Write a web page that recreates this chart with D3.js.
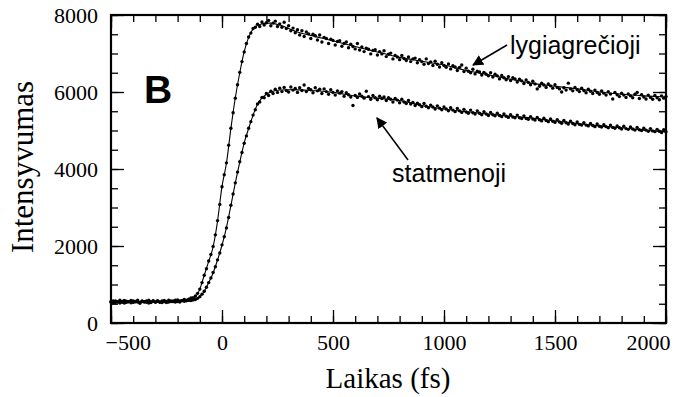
<!DOCTYPE html>
<html>
<head>
<meta charset="UTF-8">
<title>Intensyvumas</title>
<style>
  body { margin: 0; background: #fff; }
  .tick text { font-family: "Liberation Serif", "Times New Roman", serif; font-size: 22px; fill: #000; }
  .tick line { stroke: #000; stroke-width: 1.3; }
</style>
</head>
<body>
<svg id="chart"></svg>
<script src="https://cdn.jsdelivr.net/npm/d3@7"></script>
<script>
const width = 678;
const height = 397;

// sampling grid of the measured points (fs), every 10 fs
const times = d3.range(-500, 2001, 10);

// lygiagrečioji (parallel) measured points
const upperPts = [
  545, 570, 530, 555, 590, 540, 520, 565, 550, 585,
  535, 560, 545, 510, 575, 555, 540, 590, 530, 565,
  550, 580, 540, 575, 555, 530, 590, 560, 575, 545,
  600, 570, 585, 610, 595, 620, 650, 660, 700, 770,
  880, 1050, 1240, 1410, 1610, 1780, 1990, 2290, 2660, 3080,
  3540, 3850, 4160, 4620, 5060, 5460, 5840, 6190, 6510, 6790,
  7040, 7260, 7430, 7530, 7650, 7680, 7760, 7700, 7820, 7740,
  7800, 7860, 7720, 7790, 7840, 7700, 7770, 7680, 7810, 7650,
  7720, 7590, 7660, 7540, 7620, 7480, 7590, 7440, 7560, 7510,
  7390, 7500, 7460, 7350, 7480, 7300, 7420, 7390, 7260, 7370,
  7340, 7220, 7310, 7330, 7190, 7260, 7300, 7150, 7240, 7180,
  7120, 7260, 7090, 7170, 7050, 7140, 7110, 6990, 7080, 7100,
  6960, 7050, 6990, 7070, 6920, 6980, 7010, 6860, 6950, 6910,
  6840, 6950, 6870, 6820, 6910, 6790, 6860, 6880, 6760, 6840,
  6790, 6720, 6860, 6740, 6780, 6690, 6800, 6720, 6650, 6760,
  6690, 6640, 6730, 6600, 6680, 6650, 6560, 6640, 6700, 6530,
  6620, 6540, 6500, 6590, 6470, 6540, 6520, 6440, 6510, 6460,
  6420, 6500, 6390, 6460, 6420, 6340, 6430, 6370, 6320, 6400,
  6300, 6370, 6340, 6260, 6330, 6290, 6220, 6310, 6250, 6190,
  6280, 6210, 6080, 6150, 6230, 6180, 6120, 6210, 6160, 6100,
  6190, 6120, 6080, 6000, 6110, 6050, 6230, 6080, 6030, 6120,
  6060, 6010, 6100, 6040, 5980, 6070, 6020, 5960, 6050, 5990,
  5940, 6030, 5970, 5920, 6010, 5950, 5820, 5990, 5930, 5880,
  5970, 5920, 5860, 5950, 5900, 5850, 5940, 5990, 5830, 5930,
  5870, 5820, 5920, 5860, 5810, 5910, 5850, 5800, 5900, 5840,
  5880
];

// statmenoji (perpendicular) measured points
const lowerPts = [
  555, 530, 570, 545, 520, 560, 585, 540, 555, 525,
  570, 550, 590, 535, 560, 545, 575, 520, 555, 580,
  540, 565, 550, 530, 585, 560, 545, 575, 555, 590,
  560, 545, 580, 565, 575, 590, 585, 600, 610, 640,
  685, 750, 825, 930, 1050, 1170, 1310, 1460, 1640, 1820,
  2030, 2240, 2470, 2740, 3060, 3350, 3640, 3920, 4190, 4430,
  4670, 4860, 5060, 5230, 5400, 5540, 5690, 5740, 5860, 5850,
  5960, 5910, 6020, 5960, 6070, 5990, 6100, 6010, 6120, 6040,
  6000, 6130, 6050, 6090, 5990, 6110, 6040, 6180, 6010, 6090,
  6060, 5980, 6110, 6030, 6070, 5960, 6080, 6010, 5940, 6060,
  5990, 5920, 6030, 5970, 6010, 5890, 5980, 5930, 5870, 5650,
  5910, 5860, 5950, 5890, 5840, 6020, 5880, 5810, 5910, 5850,
  5800, 5890, 5830, 5870, 5780, 5850, 5810, 5740, 5830, 5790,
  5720, 5810, 5740, 5700, 5780, 5690, 5730, 5650, 5710, 5670,
  5620, 5700, 5630, 5590, 5660, 5610, 5560, 5640, 5580, 5540,
  5610, 5560, 5510, 5590, 5530, 5490, 5570, 5510, 5470, 5550,
  5480, 5450, 5530, 5460, 5430, 5510, 5450, 5410, 5490, 5430,
  5390, 5470, 5410, 5380, 5450, 5390, 5360, 5430, 5370, 5340,
  5410, 5350, 5330, 5400, 5330, 5310, 5380, 5310, 5290, 5360,
  5300, 5270, 5340, 5280, 5250, 5320, 5260, 5230, 5300, 5240,
  5210, 5280, 5220, 5190, 5260, 5200, 5170, 5240, 5180, 5150,
  5220, 5160, 5140, 5200, 5140, 5120, 5180, 5130, 5100, 5170,
  5110, 5090, 5150, 5100, 5070, 5140, 5080, 5060, 5120, 5070,
  5040, 5110, 5050, 5030, 5090, 5040, 5010, 5080, 5020, 5000,
  5060, 5010, 4980, 5050, 4990, 4970, 5030, 4980, 4950, 5020,
  4970
];

// fitted curves
const fitTimes = [-500, -300, -200, -150, -120, -100, -80, -60, -40, -20, 0, 20, 40, 60, 80, 100, 120, 140, 160, 180, 200, 220, 260, 300, 340, 400, 500, 600, 700, 800, 900, 1000, 1100, 1200, 1300, 1400, 1500, 1600, 1700, 1800, 1900, 2000];
const fitUpper = [550, 555, 570, 600, 680, 880, 1240, 1600, 1980, 2650, 3550, 4150, 5050, 5850, 6500, 7050, 7420, 7640, 7730, 7770, 7790, 7790, 7740, 7650, 7560, 7470, 7330, 7180, 7040, 6900, 6800, 6700, 6560, 6450, 6330, 6225, 6150, 6080, 6000, 5940, 5900, 5870];
const fitLower = [550, 555, 560, 570, 600, 680, 820, 1050, 1300, 1640, 2020, 2480, 3050, 3640, 4180, 4680, 5050, 5400, 5680, 5850, 5940, 6000, 6050, 6060, 6055, 6040, 5990, 5900, 5840, 5780, 5650, 5560, 5490, 5430, 5370, 5320, 5250, 5180, 5120, 5070, 5010, 4960];

const xTicks = [-500, 0, 500, 1000, 1500, 2000];
const yTicks = [0, 2000, 4000, 6000, 8000];

const svg = d3.select('#chart')
    .attr('width', width)
    .attr('height', height);

const x = d3.scaleLinear().domain([-500, 2000]).range([111, 666]);
const y = d3.scaleLinear().domain([0, 8000]).range([323, 15]);

// minor ticks
svg.append('g').attr('transform', 'translate(0,323)')
    .call(d3.axisBottom(x).tickValues(d3.range(-500, 2001, 100)).tickSize(-7).tickFormat(''));
svg.append('g').attr('transform', 'translate(0,15)')
    .call(d3.axisTop(x).tickValues(d3.range(-500, 2001, 100)).tickSize(-7).tickFormat(''));
svg.append('g').attr('transform', 'translate(111,0)')
    .call(d3.axisLeft(y).tickValues(d3.range(0, 8001, 500)).tickSize(-7).tickFormat(''));
svg.append('g').attr('transform', 'translate(666,0)')
    .call(d3.axisRight(y).tickValues(d3.range(0, 8001, 500)).tickSize(-7).tickFormat(''));

// major ticks
const xAxis = svg.append('g').attr('transform', 'translate(0,323)')
    .call(d3.axisBottom(x).tickValues(xTicks).tickSizeInner(-13).tickSizeOuter(0).tickPadding(11).tickFormat(d3.format('d')));
xAxis.selectAll('.tick text')
    .attr('text-anchor', (d, i) => i === 0 ? 'start' : (i === xTicks.length - 1 ? 'end' : 'middle'))
    .attr('dx', (d, i) => i === 0 ? -6 : (i === xTicks.length - 1 ? 4 : 0));
svg.append('g').attr('transform', 'translate(0,15)')
    .call(d3.axisTop(x).tickValues(xTicks).tickSizeInner(-13).tickSizeOuter(0).tickFormat(''));
svg.append('g').attr('transform', 'translate(111,0)')
    .call(d3.axisLeft(y).tickValues(yTicks).tickSizeInner(-13).tickSizeOuter(0).tickPadding(13).tickFormat(d3.format('d')));
svg.append('g').attr('transform', 'translate(666,0)')
    .call(d3.axisRight(y).tickValues(yTicks).tickSizeInner(-13).tickSizeOuter(0).tickFormat(''));

svg.selectAll('.domain').remove();

// frame
svg.append('rect')
    .attr('x', x(-500)).attr('y', y(8000))
    .attr('width', x(2000) - x(-500)).attr('height', y(0) - y(8000))
    .attr('fill', 'none').attr('stroke', '#000').attr('stroke-width', 2.2);

// fitted lines
const line = d3.line()
    .x((d, i) => x(fitTimes[i]))
    .y(d => y(d))
    .curve(d3.curveMonotoneX);

[fitUpper, fitLower].forEach(s => {
    svg.append('path')
        .attr('d', line(s))
        .attr('fill', 'none')
        .attr('stroke', '#000')
        .attr('stroke-width', 1.1);
});

// measured points
[upperPts, lowerPts].forEach(s => {
    svg.append('g')
        .selectAll('circle')
        .data(s)
        .enter()
        .append('circle')
        .attr('cx', (d, i) => x(times[i]))
        .attr('cy', d => y(d))
        .attr('r', 1.7)
        .attr('fill', '#000');
});

// arrows
const defs = svg.append('defs');
defs.append('marker')
    .attr('id', 'arrow')
    .attr('viewBox', '0 0 10 10')
    .attr('refX', 9).attr('refY', 5)
    .attr('markerWidth', 11).attr('markerHeight', 11)
    .attr('markerUnits', 'userSpaceOnUse')
    .attr('orient', 'auto')
    .append('path')
    .attr('d', 'M0,0 L10,5 L0,10 z')
    .attr('fill', '#000');

const arrows = [
    { from: [1284, 7221], to: [1131, 6701] },
    { from: [838, 4234], to: [698, 5325] }
];
arrows.forEach(a => {
    svg.append('line')
        .attr('x1', x(a.from[0])).attr('y1', y(a.from[1]))
        .attr('x2', x(a.to[0])).attr('y2', y(a.to[1]))
        .attr('stroke', '#000')
        .attr('stroke-width', 1.5)
        .attr('marker-end', 'url(#arrow)');
});

// labels
svg.append('text')
    .attr('x', x(1297)).attr('y', y(6987))
    .style('font-family', '"Liberation Sans", Arial, sans-serif')
    .style('font-size', '25px')
    .text('lygiagrečioji');

svg.append('text')
    .attr('x', x(766)).attr('y', y(3662))
    .style('font-family', '"Liberation Sans", Arial, sans-serif')
    .style('font-size', '25px')
    .text('statmenoji');

svg.append('text')
    .attr('x', 144).attr('y', 103)
    .style('font-family', '"Liberation Sans", Arial, sans-serif')
    .style('font-size', '39px')
    .style('font-weight', 'bold')
    .text('B');

svg.append('text')
    .attr('x', 388).attr('y', 388)
    .attr('text-anchor', 'middle')
    .style('font-family', '"Liberation Serif", "Times New Roman", serif')
    .style('font-size', '29px')
    .text('Laikas (fs)');

svg.append('text')
    .attr('transform', 'translate(33,167) rotate(-90)')
    .attr('text-anchor', 'middle')
    .style('font-family', '"Liberation Serif", "Times New Roman", serif')
    .style('font-size', '31px')
    .text('Intensyvumas');
</script>
</body>
</html>
